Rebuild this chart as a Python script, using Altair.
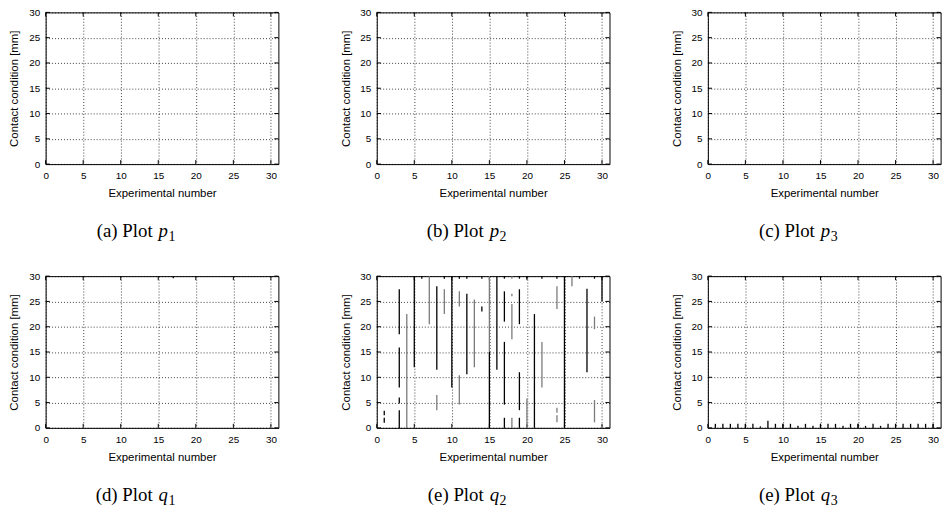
import altair as alt
import pandas as pd

# ---------------- data ----------------
x_ticks = [0, 5, 10, 15, 20, 25, 30]
y_ticks = [0, 5, 10, 15, 20, 25, 30]
x_max = 31
y_max = 30

cap_prefix = ["(a) Plot", "(b) Plot", "(c) Plot", "(d) Plot", "(e) Plot", "(e) Plot"]
cap_var = ["p", "p", "p", "q", "q", "q"]
cap_sub = ["1", "2", "3", "1", "2", "3"]

# panel (d) q1
d_x = [17]
d_lo = [29.6]
d_hi = [30]
d_tone = ["black"]

# panel (e) q2
e_x = [1, 1, 3, 3, 3, 3, 4, 5, 6, 7, 8, 8, 9, 9, 10, 11, 11, 11, 12, 12, 13, 14, 14,
       15, 15, 16, 17, 17, 17, 17, 18, 18, 18, 18, 19, 19, 19, 19, 20, 20, 21, 22, 22,
       24, 24, 24, 24, 25, 26, 27, 28, 29, 29, 29, 30]
e_lo = [1.0, 2.5, 18.5, 8.0, 4.8, 0, 0, 12, 29.5, 20.5, 11.5, 3.5, 22.5, 29.5, 8.0, 24, 4.6, 29.5, 10.6, 29.5, 12, 23, 29.5,
        0, 15, 11.5, 21, 4.6, 0, 29.5, 26, 17.5, 0, 29.5, 20.5, 3.5, 0, 29.5, 0, 29.5, 0, 8.0, 29.5,
        23.5, 1.1, 3.0, 29.5, 0, 28, 29.5, 11, 19.5, 1.1, 29.5, 25]
e_hi = [2.0, 3.4, 27.4, 15.9, 6.0, 3.5, 22.5, 30, 30, 30, 28, 6.5, 27.4, 30, 30, 27, 10.4, 30, 26.5, 30, 25.4, 24, 30,
        15, 30, 30, 27, 17, 2, 30, 26.5, 24.5, 2, 30, 27.4, 11, 2, 30, 5.8, 30, 22.5, 17, 30,
        28, 2.5, 4.0, 30, 30, 30, 30, 27.5, 22, 5.5, 30, 30]
e_tone = ["black", "black", "black", "black", "black", "black", "gray", "black", "black", "gray", "black", "gray", "gray", "black",
          "black", "gray", "gray", "black", "black", "black", "gray", "black", "black",
          "black", "gray", "black", "black", "black", "black", "black", "gray", "gray", "gray", "gray", "black", "black", "black", "black",
          "gray", "black", "black", "gray", "black",
          "gray", "gray", "gray", "black", "black", "gray", "black", "black", "gray", "gray", "black", "black"]

# panel (f) q3
f_x = [1, 2, 3, 4, 5, 6, 7, 8, 9, 10, 11, 12, 13, 14, 15, 16, 17, 18, 19, 20,
       21, 22, 23, 24, 25, 26, 27, 28, 29, 30]
f_hi = [0.8, 0.8, 0.8, 0.8, 0.8, 0.8, 0.3, 1.4, 0.8, 0.8, 0.8, 0.4, 0.8, 0.4, 0.8, 0.8, 0.8, 0.4, 0.8, 0.8,
        0.4, 0.8, 0.4, 0.8, 0.8, 0.8, 0.8, 0.8, 0.8, 0.8]

# ---------------- styling ----------------
W, H = 235, 153.2
SANS = "Liberation Sans"
SERIF = "Liberation Serif"
TICK_Y = 0.8    # inward tick length in y units (~4 px)
TICK_X = 0.55   # inward tick length in x units (~4 px)

xs = alt.Scale(domain=[0, x_max], nice=False, zero=False)
ys = alt.Scale(domain=[0, y_max], nice=False, zero=False)

xax = alt.Axis(values=x_ticks, title="Experimental number", grid=True, gridDash=[1, 2],
               gridColor="#000000", gridOpacity=0.75, gridWidth=1, tickSize=0, domain=False,
               labelPadding=7, labelFont=SANS, labelFontSize=10, labelColor="black",
               titleFont=SANS, titleFontSize=11.5, titleFontWeight="normal", titleColor="black",
               minExtent=18, maxExtent=18, titlePadding=6, labelFlush=False)
yax = alt.Axis(values=y_ticks, title="Contact condition [mm]", grid=True, gridDash=[1, 2],
               gridColor="#000000", gridOpacity=0.75, gridWidth=1, tickSize=0, domain=False,
               labelPadding=6, labelFont=SANS, labelFontSize=10, labelColor="black",
               titleFont=SANS, titleFontSize=11.5, titleFontWeight="normal", titleColor="black",
               minExtent=20, maxExtent=20, titlePadding=6, labelFlush=False)

tone_scale = alt.Scale(domain=["black", "gray"], range=["#000000", "#7a7a7a"])


def vticks(yfrom, yto):
    df = pd.DataFrame({"x": x_ticks, "a": [yfrom] * len(x_ticks), "b": [yto] * len(x_ticks)})
    return alt.Chart(df).mark_rule(color="black", strokeWidth=1).encode(
        x=alt.X("x:Q", scale=xs, axis=xax), y=alt.Y("a:Q", scale=ys, axis=yax), y2="b:Q")


def hticks(xfrom, xto):
    df = pd.DataFrame({"y": y_ticks, "a": [xfrom] * len(y_ticks), "b": [xto] * len(y_ticks)})
    return alt.Chart(df).mark_rule(color="black", strokeWidth=1).encode(
        y=alt.Y("y:Q", scale=ys, axis=yax), x=alt.X("a:Q", scale=xs, axis=xax), x2="b:Q")


def panel(i, seg=None):
    layers = [
        vticks(0, TICK_Y),
        vticks(y_max - TICK_Y, y_max),
        hticks(0, TICK_X),
        hticks(x_max - TICK_X, x_max),
    ]
    if seg is not None:
        layers.append(
            alt.Chart(seg).mark_rule(strokeWidth=1.3).encode(
                x=alt.X("x:Q", scale=xs, axis=xax),
                y=alt.Y("lo:Q", scale=ys, axis=yax),
                y2="hi:Q",
                color=alt.Color("tone:N", scale=tone_scale, legend=None),
            )
        )
    cap = pd.DataFrame({"a": [cap_prefix[i]], "b": [cap_var[i]], "c": [cap_sub[i]]})
    layers.append(alt.Chart(cap).mark_text(align="right", baseline="alphabetic", font=SERIF,
                                           fontSize=19, color="black").encode(
        text="a:N", x=alt.value(108), y=alt.value(H + 74)))
    layers.append(alt.Chart(cap).mark_text(align="left", baseline="alphabetic", font=SERIF,
                                           fontSize=19, fontStyle="italic", color="black").encode(
        text="b:N", x=alt.value(114), y=alt.value(H + 74)))
    layers.append(alt.Chart(cap).mark_text(align="left", baseline="alphabetic", font=SERIF,
                                           fontSize=14, color="black").encode(
        text="c:N", x=alt.value(124), y=alt.value(H + 78)))
    return alt.layer(*layers).properties(width=W, height=H)


seg_d = pd.DataFrame({"x": d_x, "lo": d_lo, "hi": d_hi, "tone": d_tone})
seg_e = pd.DataFrame({"x": e_x, "lo": e_lo, "hi": e_hi, "tone": e_tone})
seg_f = pd.DataFrame({"x": f_x, "lo": [0] * len(f_x), "hi": f_hi, "tone": ["black"] * len(f_x)})

panels = [panel(0), panel(1), panel(2), panel(3, seg_d), panel(4, seg_e), panel(5, seg_f)]

chart = alt.concat(*panels, columns=3, spacing={"row": 112.3, "column": 99.3}, bounds="flush").properties(
    padding={"left": 0, "top": -4, "right": 0, "bottom": 0}
).configure_view(stroke="black", strokeWidth=1)

chart.save("out.html", embed_options={"renderer": "svg", "actions": False})
